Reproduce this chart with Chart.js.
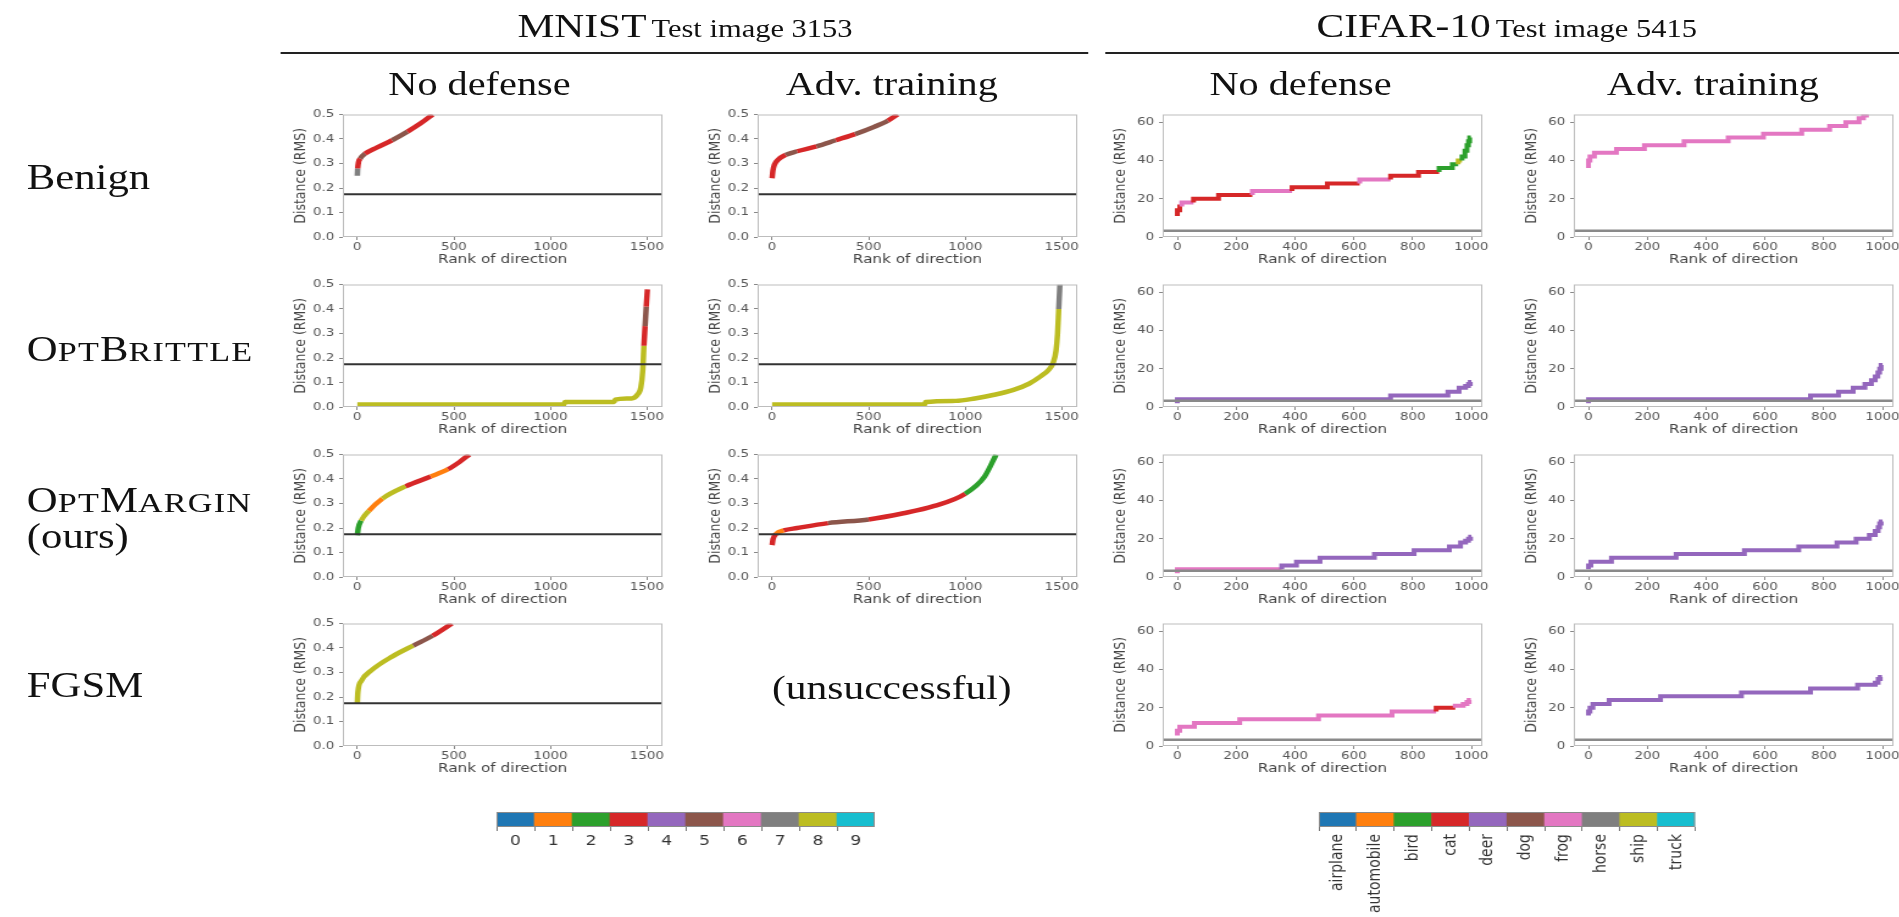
<!DOCTYPE html>
<html>
<head>
<meta charset="utf-8">
<script src="https://cdn.jsdelivr.net/npm/chart.js@4.4.0/dist/chart.umd.min.js"></script>
<style>
  html, body { margin: 0; padding: 0; background: #fff; overflow: hidden; width: 1899px; height: 917px; }
  #fig { position: absolute; left: 0; top: 0; width: 1557px; height: 917px; transform: scaleX(1.22); transform-origin: 0 0; }
  .txt { position: absolute; white-space: nowrap; font-family: "Liberation Serif", "Times New Roman", serif; color: #111; line-height: 1; transform: translate(-50%, -50%); }
  .row { position: absolute; left: 22px; white-space: nowrap; font-family: "Liberation Serif", "Times New Roman", serif; color: #111; font-size: 35px; line-height: 1; transform: translateY(-50%); }
  .sc { font-size: 0.8em; letter-spacing: 1px; }
  .rule { position: absolute; height: 2px; background: #222; }
  canvas { position: absolute; }
</style>
</head>
<body>
<div id="fig">
  <div class="txt" style="left:561.5px; top:26px;"><span style="font-size:34px">MNIST</span> <span style="font-size:25px">Test image 3153</span></div>
  <div class="txt" style="left:1235px; top:26px;"><span style="font-size:34px">CIFAR-10</span> <span style="font-size:25px">Test image 5415</span></div>
  <div class="rule" style="left:230px; width:662px; top:52px;"></div>
  <div class="rule" style="left:906px; width:652px; top:52px;"></div>

  <div class="txt" style="left:393px; top:84px; font-size:33px;">No defense</div>
  <div class="txt" style="left:731px; top:84px; font-size:33px;">Adv. training</div>
  <div class="txt" style="left:1066px; top:84px; font-size:33px;">No defense</div>
  <div class="txt" style="left:1404px; top:84px; font-size:33px;">Adv. training</div>

  <div class="row" style="top:177px;">Benign</div>
  <div class="row" style="top:349px;">O<span class="sc">PT</span>B<span class="sc">RITTLE</span></div>
  <div class="row" style="top:519px; line-height:34px;">O<span class="sc">PT</span>M<span class="sc">ARGIN</span><br>(ours)</div>
  <div class="row" style="top:685px;">FGSM</div>

  <div class="txt" style="left:731px; top:688px; font-size:34px;">(unsuccessful)</div>
</div>

<script>
// tab10 class colours
const tab10 = ['#1f77b4', '#ff7f0e', '#2ca02c', '#d62728', '#9467bd', '#8c564b', '#e377c2', '#7f7f7f', '#bcbd22', '#17becf'];

const mnistClasses = ['0', '1', '2', '3', '4', '5', '6', '7', '8', '9'];
const cifarClasses = ['airplane', 'automobile', 'bird', 'cat', 'deer', 'dog', 'frog', 'horse', 'ship', 'truck'];
const colorbarFill = [1, 1, 1, 1, 1, 1, 1, 1, 1, 1];

const mnistXTicks = [0, 500, 1000, 1500];
const mnistYTicks = [0, 0.1, 0.2, 0.3, 0.4, 0.5];
const mnistXRange = [-75, 1580];
const mnistYRange = [0, 0.5];
const mnistThreshold = 0.175;

const cifarXTicks = [0, 200, 400, 600, 800, 1000];
const cifarYTicks = [0, 20, 40, 60];
const cifarXRange = [-50, 1037];
const cifarYRange = [0, 64];
const cifarThreshold = 3.3;

// MNIST, benign, no defense
const mBenignNoneRank = [0, 2, 6, 15, 40, 100, 180, 260, 330, 390];
const mBenignNoneDist = [0.25, 0.28, 0.305, 0.32, 0.34, 0.365, 0.395, 0.43, 0.465, 0.5];
const mBenignNoneCls = [7, 3, 3, 5, 3, 3, 5, 3, 3, 3];
// MNIST, benign, adv. training
const mBenignAdvRank = [0, 4, 12, 30, 70, 130, 230, 330, 430, 530, 600, 650];
const mBenignAdvDist = [0.24, 0.27, 0.295, 0.315, 0.335, 0.35, 0.37, 0.395, 0.42, 0.45, 0.475, 0.5];
const mBenignAdvCls = [3, 3, 3, 3, 5, 3, 5, 3, 5, 5, 3, 5];
// MNIST, OptBrittle, no defense
const mBrittleNoneRank = [0, 1070, 1075, 1330, 1335, 1420, 1450, 1468, 1478, 1484, 1490, 1496, 1502];
const mBrittleNoneDist = [0.01, 0.01, 0.02, 0.02, 0.03, 0.035, 0.05, 0.08, 0.15, 0.25, 0.33, 0.41, 0.48];
const mBrittleNoneCls = [8, 8, 8, 8, 8, 8, 8, 8, 8, 3, 5, 3, 3];
// MNIST, OptBrittle, adv. training
const mBrittleAdvRank = [0, 790, 795, 950, 1050, 1150, 1250, 1330, 1390, 1430, 1455, 1470, 1478, 1484, 1490];
const mBrittleAdvDist = [0.01, 0.01, 0.02, 0.025, 0.035, 0.05, 0.07, 0.095, 0.125, 0.15, 0.18, 0.23, 0.3, 0.4, 0.5];
const mBrittleAdvCls = [8, 8, 8, 8, 8, 8, 8, 8, 8, 8, 8, 8, 8, 7, 7];
// MNIST, OptMargin, no defense
const mMarginNoneRank = [0, 5, 20, 60, 130, 250, 380, 470, 530, 580];
const mMarginNoneDist = [0.17, 0.2, 0.23, 0.27, 0.32, 0.37, 0.41, 0.44, 0.47, 0.5];
const mMarginNoneCls = [2, 2, 8, 1, 8, 3, 1, 3, 3, 2];
// MNIST, OptMargin, adv. training
const mMarginAdvRank = [0, 5, 20, 60, 130, 290, 500, 680, 840, 1000, 1100, 1160];
const mMarginAdvDist = [0.13, 0.155, 0.175, 0.19, 0.2, 0.22, 0.235, 0.26, 0.29, 0.34, 0.41, 0.5];
const mMarginAdvCls = [3, 3, 1, 3, 3, 5, 3, 3, 3, 2, 2, 2];
// MNIST, FGSM, no defense
const mFgsmNoneRank = [0, 3, 20, 75, 180, 290, 390, 490];
const mFgsmNoneDist = [0.175, 0.22, 0.265, 0.31, 0.365, 0.41, 0.45, 0.5];
const mFgsmNoneCls = [8, 8, 8, 8, 8, 5, 3, 7];

// CIFAR-10, benign, no defense (step levels)
const cBenignNoneRank = [0, 8, 15, 55, 140, 255, 390, 510, 620, 725, 820, 890, 935, 955, 968, 978, 985, 990, 994, 998];
const cBenignNoneDist = [11, 14, 16, 18, 20, 22, 24, 26, 28, 30, 32, 34, 36, 38, 40, 42, 45, 48, 50, 52];
const cBenignNoneCls = [3, 3, 6, 3, 3, 6, 3, 3, 6, 3, 3, 2, 2, 8, 2, 2, 2, 2, 2, 2];
// CIFAR-10, benign, adv. training
const cBenignAdvRank = [0, 5, 20, 95, 190, 325, 475, 595, 725, 820, 875, 920, 935, 945, 952];
const cBenignAdvDist = [36, 40, 42, 44, 46, 48, 50, 52, 54, 56, 58, 60, 62, 63.5, 64];
const cBenignAdvCls = [6, 6, 6, 6, 6, 6, 6, 6, 6, 6, 6, 6, 6, 6, 6];
// CIFAR-10, OptBrittle, no defense
const cBrittleNoneRank = [0, 725, 920, 958, 980, 990, 996, 1000];
const cBrittleNoneDist = [2, 4, 6, 8, 10, 11, 12, 13];
const cBrittleNoneCls = [4, 4, 4, 4, 4, 4, 4, 4];
// CIFAR-10, OptBrittle, adv. training
const cBrittleAdvRank = [0, 755, 850, 900, 940, 962, 975, 984, 990, 995, 1000];
const cBrittleAdvDist = [2, 4, 6, 8, 10, 12, 14, 16, 18, 20, 22];
const cBrittleAdvCls = [4, 4, 4, 4, 4, 4, 4, 4, 4, 4, 4];
// CIFAR-10, OptMargin, no defense
const cMarginNoneRank = [0, 355, 405, 485, 670, 805, 925, 963, 980, 990, 997, 1000];
const cMarginNoneDist = [2, 4, 6, 8, 10, 12, 14, 16, 18, 19, 20, 21];
const cMarginNoneCls = [6, 4, 4, 4, 4, 4, 4, 4, 4, 4, 4, 4];
// CIFAR-10, OptMargin, adv. training
const cMarginAdvRank = [0, 8, 78, 298, 530, 715, 845, 910, 955, 975, 985, 990, 995, 1000];
const cMarginAdvDist = [4, 6, 8, 10, 12, 14, 16, 18, 20, 22, 24, 26, 28, 29];
const cMarginAdvCls = [4, 4, 4, 4, 4, 4, 4, 4, 4, 4, 4, 4, 4, 4];
// CIFAR-10, FGSM, no defense
const cFgsmNoneRank = [0, 8, 58, 212, 480, 730, 880, 945, 972, 985, 992, 998];
const cFgsmNoneDist = [5.5, 8, 10, 12, 14, 16, 18, 20, 21, 22, 23, 24];
const cFgsmNoneCls = [6, 6, 6, 6, 6, 6, 3, 6, 6, 6, 6, 6];
// CIFAR-10, FGSM, adv. training
const cFgsmAdvRank = [0, 5, 15, 70, 245, 520, 755, 915, 975, 985, 992, 998];
const cFgsmAdvDist = [16, 18, 20, 22, 24, 26, 28, 30, 32, 33, 35, 36];
const cFgsmAdvCls = [4, 4, 4, 4, 4, 4, 4, 4, 4, 4, 4, 4];

// layout (inside the horizontally stretched figure)
const PAD_L = 42, PAD_R = 14, PAD_T = 8, PAD_B = 30;
const BOX_W = 262, BOX_H = 124;
const colLeft = [281, 620.5, 952.5, 1290];
const rowTop = [113, 283, 453, 622];

Chart.defaults.font.family = '"DejaVu Sans", sans-serif';

const framePlugin = {
    id: 'frame',
    afterDatasetsDraw(chart, args, opts) {
        const a = chart.chartArea;
        const ctx = chart.ctx;
        ctx.save();
        ctx.strokeStyle = opts.color || '#bdbdbd';
        ctx.lineWidth = 1;
        ctx.strokeRect(a.left + 0.5, a.top + 0.5, a.right - a.left - 1, a.bottom - a.top - 1);
        ctx.restore();
    }
};

function addCanvas(left, top, w, h) {
    const c = document.createElement('canvas');
    c.width = w;
    c.height = h;
    c.style.left = left + 'px';
    c.style.top = top + 'px';
    document.getElementById('fig').appendChild(c);
    return c;
}

function drawPanel(col, row, rank, dist, cls) {
    const isMnist = col < 2;
    const xRange = isMnist ? mnistXRange : cifarXRange;
    const yRange = isMnist ? mnistYRange : cifarYRange;
    const xTicks = isMnist ? mnistXTicks : cifarXTicks;
    const yTicks = isMnist ? mnistYTicks : cifarYTicks;
    const threshold = isMnist ? mnistThreshold : cifarThreshold;

    const canvas = addCanvas(colLeft[col] - PAD_L, rowTop[row] - PAD_T,
        PAD_L + BOX_W + PAD_R, PAD_T + BOX_H + PAD_B);

    new Chart(canvas, {
        type: 'line',
        data: {
            datasets: [
                {
                    data: [{x: xRange[0], y: threshold}, {x: xRange[1], y: threshold}],
                    borderColor: isMnist ? '#333' : '#8a8a8a',
                    borderWidth: isMnist ? 2 : 2.5,
                    pointRadius: 0
                },
                {
                    data: rank.map((r, i) => ({x: r, y: dist[i]})),
                    borderColor: tab10[cls[0]],
                    segment: {borderColor: ctx => tab10[cls[ctx.p0DataIndex]]},
                    borderWidth: isMnist ? 4.5 : 4,
                    pointRadius: 0,
                    stepped: isMnist ? false : 'after',
                    cubicInterpolationMode: 'monotone',
                    clip: 0
                }
            ]
        },
        options: {
            responsive: false,
            animation: false,
            events: [],
            layout: {padding: {top: PAD_T, right: PAD_R, left: 0, bottom: 0}},
            plugins: {legend: {display: false}, tooltip: {enabled: false}, frame: {color: '#bdbdbd'}},
            scales: {
                x: {
                    type: 'linear',
                    min: xRange[0],
                    max: xRange[1],
                    afterBuildTicks: s => { s.ticks = xTicks.map(v => ({value: v})); },
                    afterFit: s => { s.height = PAD_B; },
                    ticks: {font: {size: 11, lineHeight: 1}, color: '#555', padding: 2, maxRotation: 0,
                        callback: v => String(v)},
                    grid: {drawOnChartArea: false, tickLength: 3, color: '#888', tickColor: '#888'},
                    border: {display: false},
                    title: {display: true, text: 'Rank of direction', color: '#444', padding: 0,
                        font: {size: 12.5, lineHeight: 1.2}}
                },
                y: {
                    type: 'linear',
                    min: yRange[0],
                    max: yRange[1],
                    afterBuildTicks: s => { s.ticks = yTicks.map(v => ({value: v})); },
                    afterFit: s => { s.width = PAD_L; },
                    ticks: {font: {size: 11, lineHeight: 1}, color: '#555', padding: 4,
                        callback: v => isMnist ? v.toFixed(1) : String(v)},
                    grid: {drawOnChartArea: false, tickLength: 3, color: '#888', tickColor: '#888'},
                    border: {display: false},
                    title: {display: true, text: 'Distance (RMS)', color: '#444', padding: 0,
                        font: {size: 12.5, lineHeight: 1.2}}
                }
            }
        },
        plugins: [framePlugin]
    });
}

function drawColorbar(left, labels, rotation, axisHeight) {
    const canvas = addCanvas(left, 812, 310, 15 + axisHeight);
    new Chart(canvas, {
        type: 'bar',
        data: {
            labels: labels,
            datasets: [{
                data: colorbarFill,
                backgroundColor: tab10,
                borderWidth: 0,
                barPercentage: 1,
                categoryPercentage: 1
            }]
        },
        options: {
            responsive: false,
            animation: false,
            events: [],
            layout: {padding: 0},
            plugins: {legend: {display: false}, tooltip: {enabled: false}, frame: {color: '#8a8a8a'}},
            scales: {
                y: {display: false, min: 0, max: 1},
                x: {
                    afterFit: s => { s.height = axisHeight; },
                    ticks: {font: {size: 14, lineHeight: 1}, color: '#333', padding: 3, autoSkip: false,
                        minRotation: rotation, maxRotation: rotation},
                    grid: {drawOnChartArea: false, tickLength: 4, color: '#777'},
                    border: {display: false}
                }
            }
        },
        plugins: [framePlugin]
    });
}

drawPanel(0, 0, mBenignNoneRank, mBenignNoneDist, mBenignNoneCls);
drawPanel(1, 0, mBenignAdvRank, mBenignAdvDist, mBenignAdvCls);
drawPanel(0, 1, mBrittleNoneRank, mBrittleNoneDist, mBrittleNoneCls);
drawPanel(1, 1, mBrittleAdvRank, mBrittleAdvDist, mBrittleAdvCls);
drawPanel(0, 2, mMarginNoneRank, mMarginNoneDist, mMarginNoneCls);
drawPanel(1, 2, mMarginAdvRank, mMarginAdvDist, mMarginAdvCls);
drawPanel(0, 3, mFgsmNoneRank, mFgsmNoneDist, mFgsmNoneCls);

drawPanel(2, 0, cBenignNoneRank, cBenignNoneDist, cBenignNoneCls);
drawPanel(3, 0, cBenignAdvRank, cBenignAdvDist, cBenignAdvCls);
drawPanel(2, 1, cBrittleNoneRank, cBrittleNoneDist, cBrittleNoneCls);
drawPanel(3, 1, cBrittleAdvRank, cBrittleAdvDist, cBrittleAdvCls);
drawPanel(2, 2, cMarginNoneRank, cMarginNoneDist, cMarginNoneCls);
drawPanel(3, 2, cMarginAdvRank, cMarginAdvDist, cMarginAdvCls);
drawPanel(2, 3, cFgsmNoneRank, cFgsmNoneDist, cFgsmNoneCls);
drawPanel(3, 3, cFgsmAdvRank, cFgsmAdvDist, cFgsmAdvCls);

drawColorbar(406.5, mnistClasses, 0, 30);
drawColorbar(1080.5, cifarClasses, 90, 110);
</script>
</body>
</html>
